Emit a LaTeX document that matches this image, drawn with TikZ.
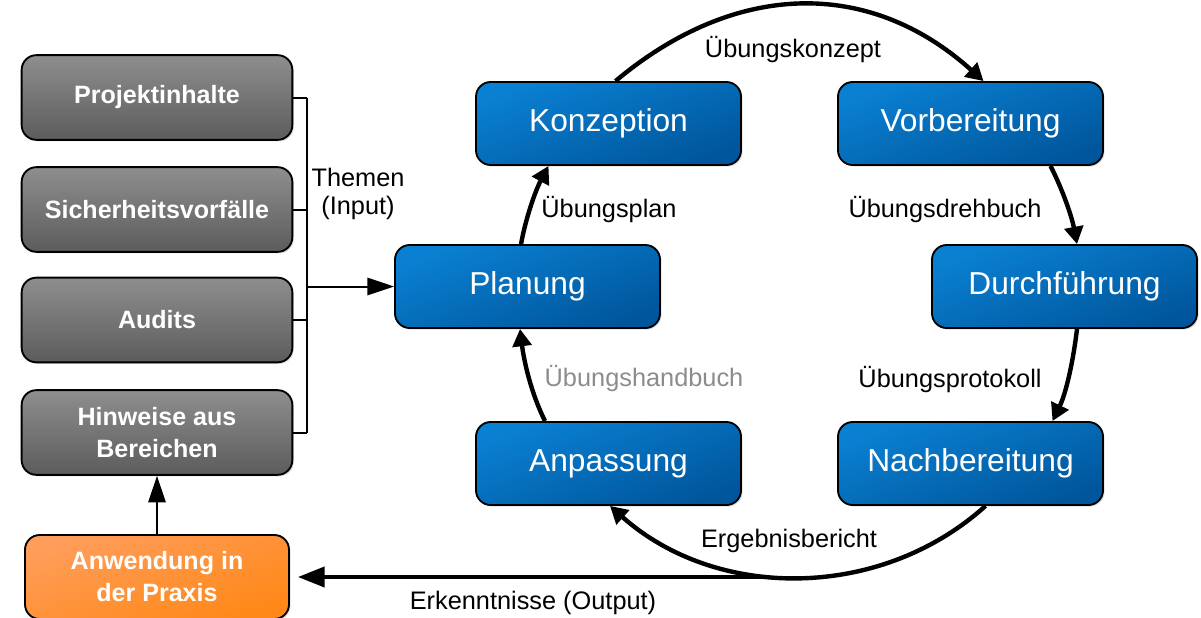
\documentclass[tikz,border=0pt]{standalone}
\usepackage{fontspec}
\setmainfont{Liberation Sans}
\usetikzlibrary{arrows.meta,calc,shadows}

\definecolor{bluetop}{HTML}{0A80D2}
\definecolor{bluebot}{HTML}{00569C}
\definecolor{graytop}{HTML}{8E8E8E}
\definecolor{graybot}{HTML}{5C5C5C}
\definecolor{orgtop}{HTML}{FF9D5A}
\definecolor{orgbot}{HTML}{FF8818}
\definecolor{lbgray}{HTML}{8C8C8C}

\tikzset{
  boxbase/.style={draw=black, line width=1.4pt, rounded corners=11pt,
    drop shadow={opacity=0.25, shadow xshift=1.2pt, shadow yshift=-1.2pt}},
  phase/.style={boxbase, top color=bluetop, bottom color=bluebot, shading angle=20,
    minimum width=198.75pt, minimum height=62.25pt, text=white,
    font=\fontsize{23.8}{28}\selectfont},
  source/.style={boxbase, top color=graytop, bottom color=graybot,
    minimum width=203pt, minimum height=63.5pt, text=white, align=center,
    font=\fontsize{18.8}{24}\selectfont\bfseries},
  practice/.style={boxbase, top color=orgtop, bottom color=orgbot, shading angle=20,
    minimum width=198pt, minimum height=63pt, text=white, align=center,
    font=\fontsize{18.8}{24}\selectfont\bfseries},
  flowlabel/.style={font=\fontsize{19}{21}\selectfont, text=black},
  cycle/.style={line width=3.3pt, -{Triangle[length=13pt,width=14pt]}, looseness=0.85},
  thin/.style={line width=1.5pt},
  thinarrow/.style={line width=1.5pt, -{Triangle[length=20pt,width=13pt]}},
  outarrow/.style={line width=3pt, -{Triangle[length=20pt,width=15pt]}, shorten >=6pt},
}

\begin{document}
\begin{tikzpicture}[x=0.75pt, y=0.75pt]
\useasboundingbox (0,0) rectangle (1201,-617);

% input sources
\node[source] (proj) at (157,-97.5) {Projektinhalte};
\node[source] (sich) at (157,-209.5) {Sicherheitsvorfälle};
\node[source] (audi) at (157,-320) {Audits};
\node[source] (hinw) at (157,-432.5) {Hinweise aus\\Bereichen};
\node[practice] (prax) at (157,-577) {Anwendung in\\der Praxis};

% exercise cycle
\node[phase] (konz) at (608.5,-123.5) {Konzeption};
\node[phase] (vorb) at (970.5,-123.5) {Vorbereitung};
\node[phase] (plan) at (527.5,-286.5) {Planung};
\node[phase] (durch) at (1064.5,-286.5) {Durchführung};
\node[phase] (anp) at (608.5,-463.5) {Anpassung};
\node[phase] (nach) at (970.5,-463.5) {Nachbereitung};

% bracket collecting the sources
\coordinate (bar) at (307,0);
\draw[thin] (proj.east) -- (proj.east -| bar);
\draw[thin] (sich.east) -- (sich.east -| bar);
\draw[thin] (audi.east) -- (audi.east -| bar);
\draw[thin] (hinw.east) -- (hinw.east -| bar);
\draw[thin] (proj.east -| bar) -- (hinw.east -| bar);
\draw[thinarrow] (plan.west -| bar) -- (plan.west);
\node[flowlabel, align=center] (them) at (358,-194) {Themen\\(Input)};

% feedback from practice
\draw[thinarrow] (prax.north) -- (hinw.south);

% cycle arrows
\draw[cycle] ($(plan.north)+(-6.5,0)$) to[out=79.5, in=242] ($(konz.south)+(-60,0)$);
\draw[cycle, looseness=1.08] ($(konz.north)+(7,0)$) to[out=40, in=138] ($(vorb.north)+(13,0)$);
\draw[cycle] ($(vorb.south)+(80,0)$) to[out=-63, in=100.7] ($(durch.north)+(12.5,0)$);
\draw[cycle] ($(durch.south)+(12.5,0)$) to[out=-96.7, in=64.2] ($(nach.north)+(82,0)$);
\draw[cycle, looseness=0.97] ($(nach.south)+(15,0)$) to[out=-138, in=-41.7] ($(anp.south)+(1.5,0)$);
\draw[cycle] ($(anp.north)+(-63.5,0)$) to[out=116.6, in=-83] ($(plan.south)+(-7.5,0)$);

% output back to practice
\coordinate (outstart) at (765,-577);
\draw[outarrow] (outstart) -- (outstart -| prax.east);

% flow labels
\node[flowlabel] (l1) at (793,-50) {Übungskonzept};
\node[flowlabel] (l2) at (609,-210) {Übungsplan};
\node[flowlabel] (l3) at (945,-210) {Übungsdrehbuch};
\node[flowlabel, text=lbgray] (l4) at (644,-379) {Übungshandbuch};
\node[flowlabel] (l5) at (950,-380) {Übungsprotokoll};
\node[flowlabel] (l6) at (789,-541) {Ergebnisbericht};
\node[flowlabel] (l7) at (533,-603) {Erkenntnisse (Output)};
\end{tikzpicture}
\end{document}
